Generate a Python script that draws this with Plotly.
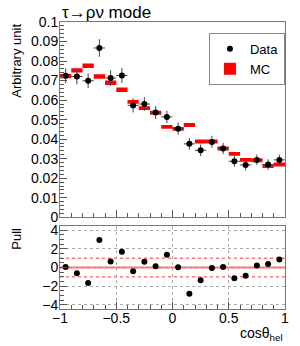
import plotly.graph_objects as go

# ---- data ----
bin_centers = [-0.95, -0.85, -0.75, -0.65, -0.55, -0.45, -0.35, -0.25, -0.15, -0.05,
               0.05, 0.15, 0.25, 0.35, 0.45, 0.55, 0.65, 0.75, 0.85, 0.95]
bin_half_width = [0.05] * 20
data_values = [0.0725, 0.0721, 0.0699, 0.0867, 0.0713, 0.0726, 0.0573, 0.0580, 0.0536, 0.0514,
               0.0454, 0.0376, 0.0343, 0.0386, 0.0352, 0.0287, 0.0268, 0.0294, 0.0270, 0.0294]
data_errors = [0.0038, 0.0040, 0.0037, 0.0045, 0.0040, 0.0038, 0.0036, 0.0035, 0.0033, 0.0032,
               0.0031, 0.0030, 0.0030, 0.0030, 0.0029, 0.0028, 0.0028, 0.0027, 0.0027, 0.0027]
mc_values = [0.0723, 0.0752, 0.0776, 0.0721, 0.0689, 0.0653, 0.0591, 0.0559, 0.0535, 0.0463,
             0.0453, 0.0473, 0.0388, 0.0388, 0.0352, 0.0325, 0.0294, 0.0292, 0.0263, 0.0270]
mc_errors = [0.0011, 0.0011, 0.0011, 0.0011, 0.0011, 0.0011, 0.0010, 0.0010, 0.0010, 0.0010,
             0.0010, 0.0010, 0.0010, 0.0010, 0.0010, 0.0010, 0.0010, 0.0010, 0.0010, 0.0010]
pull_values = [0.05, -0.6, -1.65, 2.93, 0.65, 1.69, -0.4, 0.62, 0.13, 1.37,
               0.02, -2.8, -1.37, -0.05, 0.05, -1.15, -0.87, 0.23, 0.37, 0.87]
pull_lines = [0, 1, -1]

FONT = "Liberation Sans, Arial, Helvetica, sans-serif"
FRAME = "#777777"

fig = go.Figure()

fig.add_trace(go.Bar(
    x=bin_centers,
    y=[2 * e for e in mc_errors],
    base=[v - e for v, e in zip(mc_values, mc_errors)],
    width=0.1,
    marker=dict(color="#ff0000", line=dict(width=0)),
    name="MC",
    xaxis="x2", yaxis="y2",
))

fig.add_trace(go.Scatter(
    x=bin_centers, y=data_values,
    mode="markers",
    marker=dict(color="black", size=6),
    error_x=dict(type="data", array=bin_half_width, color="#444", thickness=1, width=0),
    error_y=dict(type="data", array=data_errors, color="#444", thickness=1, width=0),
    name="Data",
    xaxis="x2", yaxis="y2",
))

fig.add_trace(go.Scatter(
    x=bin_centers, y=pull_values,
    mode="markers",
    marker=dict(color="black", size=6),
    showlegend=False,
    xaxis="x", yaxis="y",
))

# reference lines in pull panel
for v in pull_lines:
    if v == 0:
        line = dict(color="#f07070", width=2)
    else:
        line = dict(color="#ff3030", width=1, dash="dot")
    fig.add_shape(type="line", xref="x domain", yref="y", x0=0, x1=1, y0=v, y1=v,
                  line=line, layer="below")

axis_common = dict(
    showline=True, linecolor=FRAME, linewidth=1, mirror=True,
    ticks="inside", tickcolor="#555", ticklen=7, zeroline=False, automargin=False,
    tickfont=dict(family=FONT, size=14, color="black"),
)

fig.update_layout(
    width=300, height=346,
    margin=dict(l=60, r=15, t=22, b=37),
    paper_bgcolor="white", plot_bgcolor="white",
    barmode="overlay",
    font=dict(family=FONT, color="black"),
    xaxis=dict(
        **axis_common, range=[-1, 1], anchor="y", domain=[0, 1],
        tickvals=[-1, -0.5, 0, 0.5, 1], ticktext=["\u22121", "\u22120.5", "0", "0.5", "1"],
        minor=dict(dtick=0.1, ticks="inside", ticklen=4, tickcolor="#555", showgrid=False),
        showgrid=True, gridcolor="#aaaaaa", griddash="dot", gridwidth=1,
        ticklabelstandoff=-4,
    ),
    yaxis=dict(
        **axis_common, range=[-4.43, 4.43], domain=[0, 0.289], anchor="x",
        tickvals=[-4, -2, 0, 2, 4], ticktext=["\u22124", "\u22122", "0", "2", "4"],
        minor=dict(dtick=0.5, ticks="inside", ticklen=4, tickcolor="#555", showgrid=False),
        showgrid=True, gridcolor="#aaaaaa", griddash="dot", gridwidth=1,
        ticklabelstandoff=-2,
    ),
    xaxis2=dict(
        **axis_common, range=[-1, 1], anchor="y2", matches="x", showticklabels=False,
        tickvals=[-1, -0.5, 0, 0.5, 1],
        minor=dict(dtick=0.1, ticks="inside", ticklen=4, tickcolor="#555"),
        showgrid=False,
    ),
    yaxis2=dict(
        **axis_common, range=[0, 0.1], domain=[0.3195, 1.0], anchor="x2",
        dtick=0.01, tickformat="~g",
        minor=dict(dtick=0.002, ticks="inside", ticklen=4, tickcolor="#555"),
        showgrid=False,
        ticklabelstandoff=-2,
    ),
    showlegend=True,
    legend=dict(
        x=0.662, y=0.962, xanchor="left", yanchor="top",
        bordercolor="#888", borderwidth=1, bgcolor="white",
        font=dict(family=FONT, size=13, color="black"),
        traceorder="reversed", itemwidth=30,
        tracegroupgap=0,
    ),
    annotations=[
        dict(text="\u03c4\u2192\u03c1\u03bd mode", xref="paper", yref="paper",
             x=0.0, y=1.0, xanchor="left", yanchor="bottom", showarrow=False,
             font=dict(family=FONT, size=17, color="black"), yshift=-2),
        dict(text="Arbitrary unit", xref="paper", yref="paper",
             x=-0.197, y=1.0, xanchor="center", yanchor="top", textangle=-90, showarrow=False,
             font=dict(family=FONT, size=13, color="black")),
        dict(text="Pull", xref="paper", yref="paper",
             x=-0.197, y=0.289, xanchor="center", yanchor="top", textangle=-90, showarrow=False,
             font=dict(family=FONT, size=13, color="black")),
        dict(text="cos\u03b8<sub>hel</sub>", xref="paper", yref="paper",
             x=1.0, y=-0.05, xanchor="right", yanchor="top", showarrow=False,
             font=dict(family=FONT, size=14, color="black")),
    ],
)

fig.write_html("out.html", post_script="document.body.style.margin='0';",
               config={"displayModeBar": False})
